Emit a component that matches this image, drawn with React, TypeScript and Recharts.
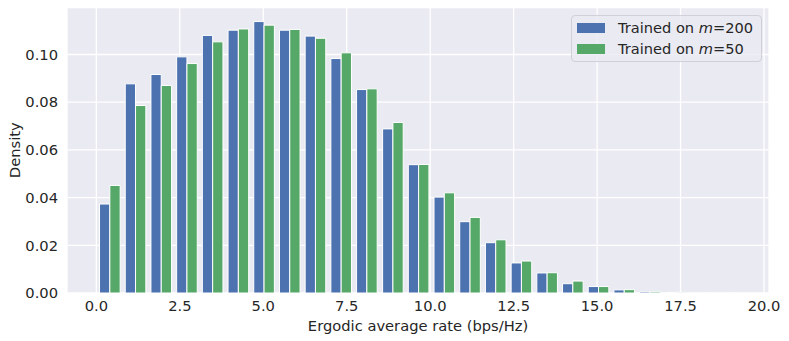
import React from 'react';
import {
  BarChart,
  Bar,
  XAxis,
  YAxis,
  CartesianGrid,
  Legend,
  Label,
} from 'recharts';

// histogram bins (centres), 25 bins of ~0.771 from 0 to ~19.3
const binCenters = [
  0.39, 1.16, 1.93, 2.70, 3.47, 4.24, 5.01, 5.78, 6.55, 7.32, 8.09, 8.87, 9.64,
  10.41, 11.18, 11.95, 12.72, 13.49, 14.26, 15.03, 15.80, 16.57, 17.35, 18.12, 18.89,
];

const densityM200 = [
  0.0373, 0.0877, 0.0916, 0.0990, 0.1080, 0.1102, 0.1138, 0.1102, 0.1077, 0.0983,
  0.0853, 0.0688, 0.0538, 0.0402, 0.0299, 0.0211, 0.0126, 0.0084, 0.0039, 0.0027,
  0.0013, 0.0005, 0.0002, 0.0001, 0.0001,
];

const densityM50 = [
  0.0451, 0.0786, 0.0870, 0.0962, 0.1053, 0.1107, 0.1123, 0.1105, 0.1068, 0.1007,
  0.0856, 0.0715, 0.0539, 0.0420, 0.0317, 0.0223, 0.0134, 0.0085, 0.0050, 0.0027,
  0.0014, 0.0005, 0.0003, 0.0001, 0.00005,
];

const xTicks = [0, 2.5, 5, 7.5, 10, 12.5, 15, 17.5, 20];
const yTicks = [0, 0.02, 0.04, 0.06, 0.08, 0.1];

const seriesNames = ['Trained on m=200', 'Trained on m=50'];

const data = binCenters.map((x, i) => ({
  x,
  m200: densityM200[i],
  m50: densityM50[i],
}));

const FONT = '"DejaVu Sans", sans-serif';
const TEXT = '#262626';

const LegendBox = ({ payload }: any) => (
  <div
    style={{
      boxSizing: 'border-box',
      width: 191,
      height: 47,
      paddingTop: 1,
      paddingLeft: 5,
      background: 'rgba(234,234,242,0.8)',
      border: '1px solid #d0d0d8',
      borderRadius: 4,
      fontFamily: FONT,
      fontSize: 14.6,
      color: TEXT,
    }}
  >
    {(payload || []).map((p: any) => {
      const [pre, post] = String(p.value).split('m=');
      return (
        <div key={p.value} style={{ height: 21, display: 'flex', alignItems: 'center' }}>
          <span style={{ width: 28, height: 10, background: p.color, marginRight: 13 }} />
          <span style={{ whiteSpace: 'nowrap' }}>
            {pre}
            <i>m</i>={post}
          </span>
        </div>
      );
    })}
  </div>
);

export default function App() {
  return (
    <div style={{ position: 'absolute', left: 0, top: 0, width: 789, height: 341, background: '#fff' }}>
      <BarChart
        width={789}
        height={341}
        data={data}
        margin={{ top: 7.5, right: 20, bottom: 0, left: 0 }}
        barGap={0}
      >
        <CartesianGrid stroke="#ffffff" strokeWidth={1.3} fill="#EAEAF2" />
        <XAxis
          dataKey="x"
          type="number"
          domain={[-0.88, 20.15]}
          allowDataOverflow
          ticks={xTicks}
          tickFormatter={(v: number) => v.toFixed(1)}
          axisLine={false}
          tickLine={false}
          height={48}
          tick={{ fill: TEXT, fontSize: 14.7, fontFamily: FONT }}
        >
          <Label
            content={({ viewBox }: any) => (
              <text
                x={viewBox.x + viewBox.width / 2}
                y={viewBox.y + 37.7}
                textAnchor="middle"
                fill={TEXT}
                fontSize={14.7}
                fontFamily={FONT}
              >
                Ergodic average rate (bps/Hz)
              </text>
            )}
          />
        </XAxis>
        <YAxis
          type="number"
          domain={[0, 0.1197]}
          allowDataOverflow
          ticks={yTicks}
          tickFormatter={(v: number) => v.toFixed(2)}
          axisLine={false}
          tickLine={false}
          tickMargin={3}
          width={67}
          tick={{ fill: TEXT, fontSize: 14.7, fontFamily: FONT }}
        >
          <Label
            content={({ viewBox }: any) => {
              const cx = 20;
              const cy = viewBox.y + viewBox.height / 2;
              return (
                <text
                  x={cx}
                  y={cy}
                  transform={`rotate(-90 ${cx} ${cy})`}
                  textAnchor="middle"
                  fill={TEXT}
                  fontSize={14.7}
                  fontFamily={FONT}
                >
                  Density
                </text>
              );
            }}
          />
        </YAxis>
        <Legend
          layout="horizontal"
          verticalAlign="middle"
          align="center"
          wrapperStyle={{ left: 571, top: 15, width: 191, height: 47 }}
          content={<LegendBox />}
        />
        <Bar
          dataKey="m200"
          name={seriesNames[0]}
          fill="#4C72B0"
          stroke="#ffffff"
          strokeWidth={1}
          barSize={10.3}
          isAnimationActive={false}
        />
        <Bar
          dataKey="m50"
          name={seriesNames[1]}
          fill="#55A868"
          stroke="#ffffff"
          strokeWidth={1}
          barSize={10.3}
          isAnimationActive={false}
        />
      </BarChart>
    </div>
  );
}
